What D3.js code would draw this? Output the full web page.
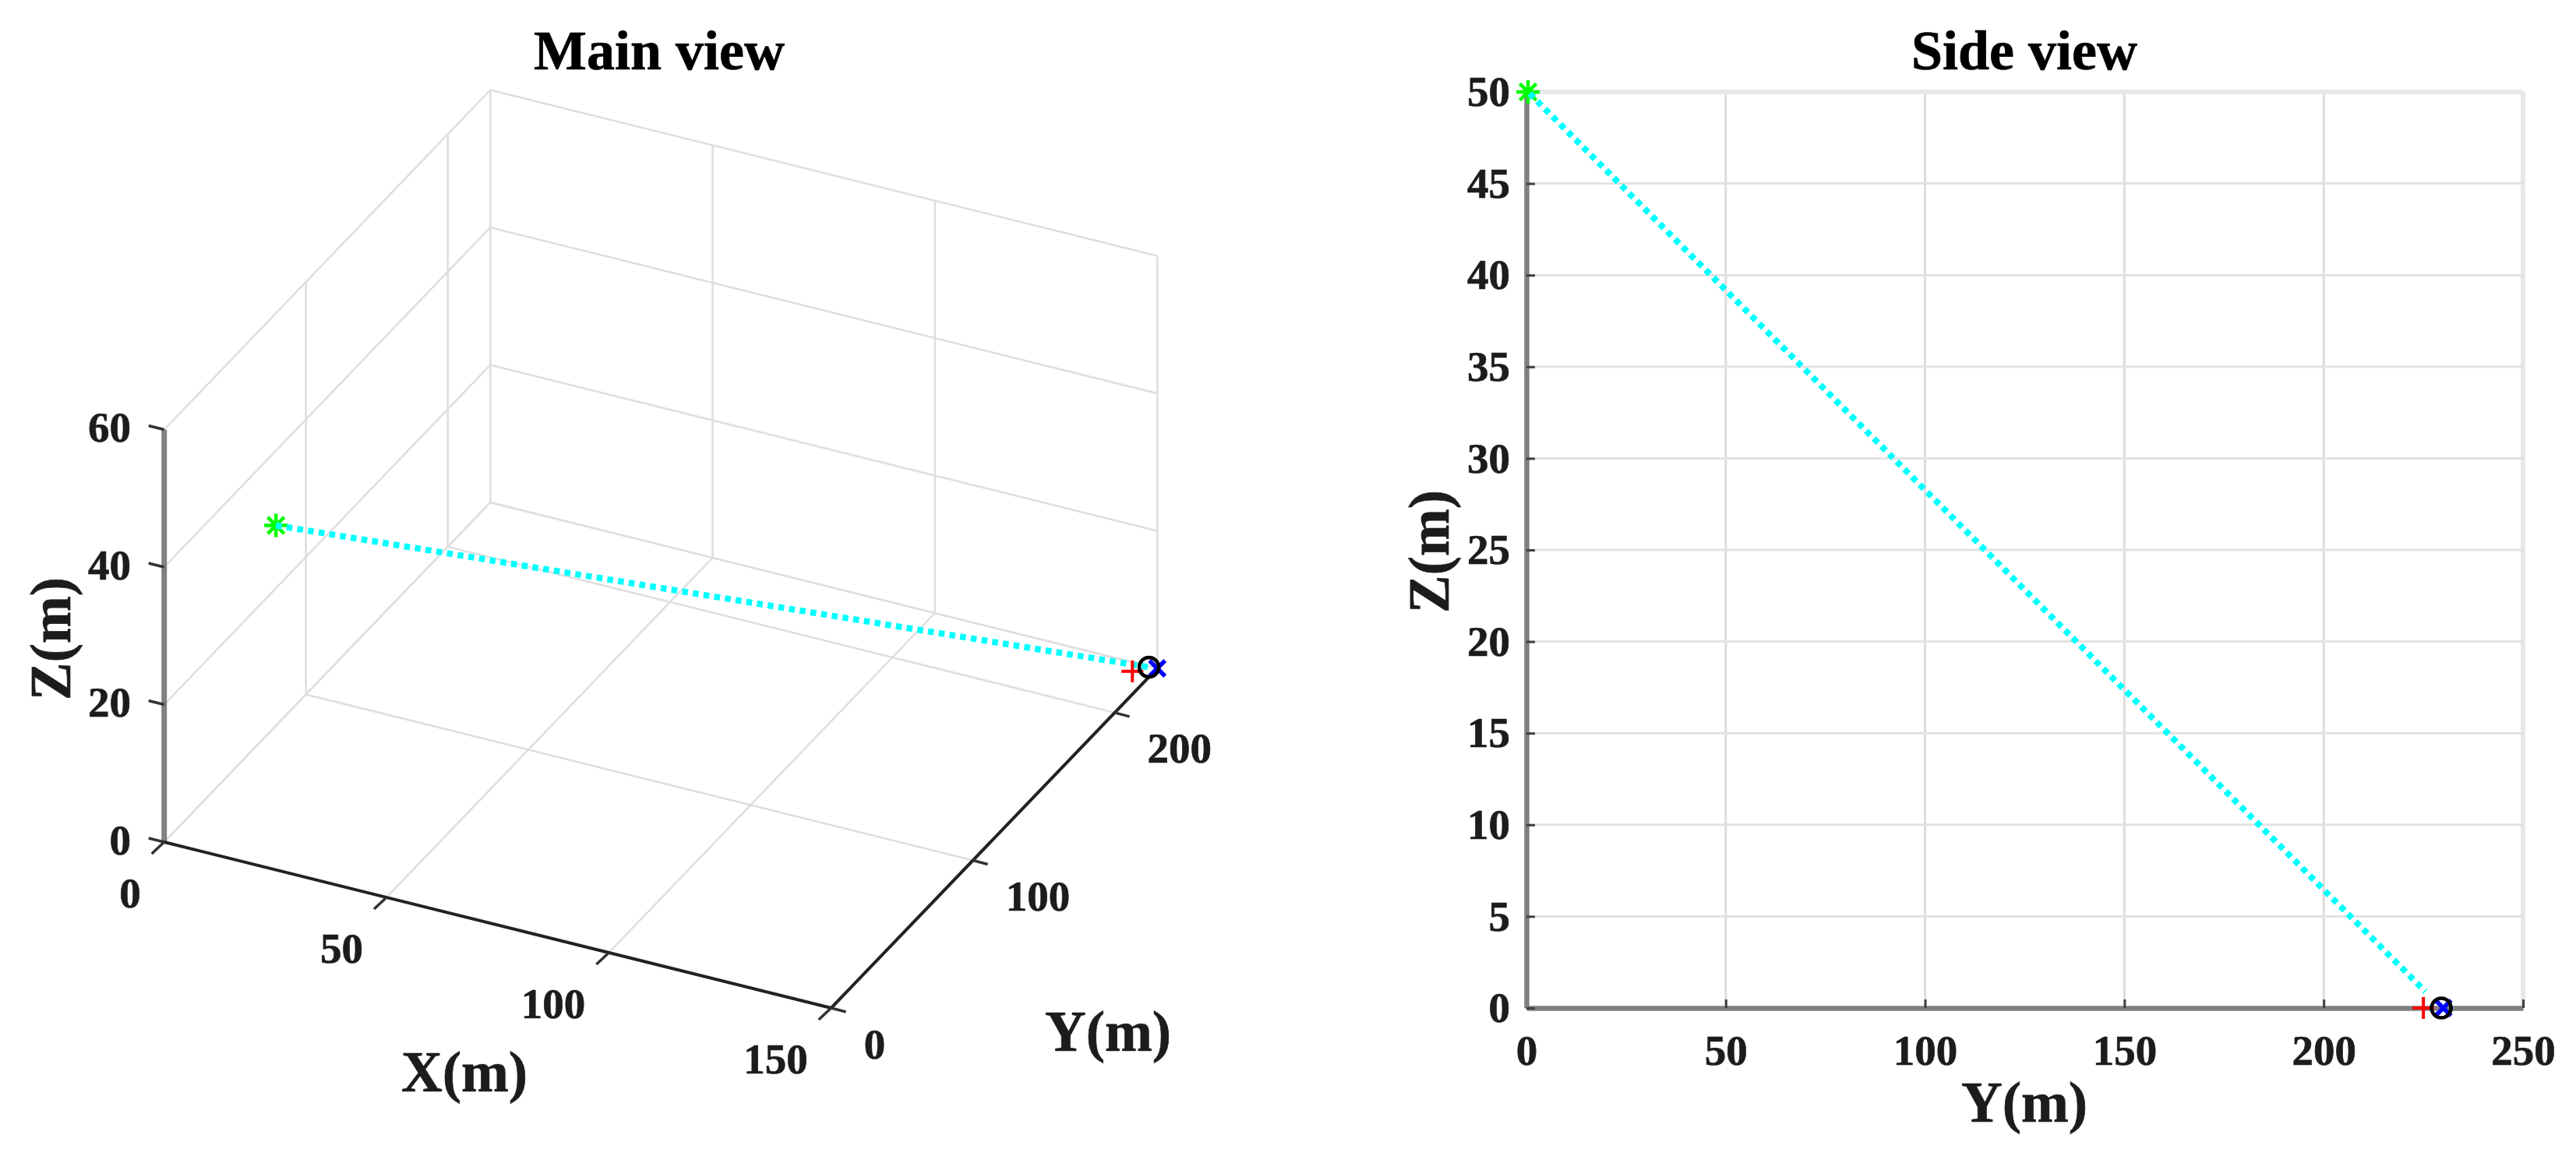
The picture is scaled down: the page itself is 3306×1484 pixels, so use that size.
<!DOCTYPE html>
<html>
<head>
<meta charset="utf-8">
<script src="https://cdn.jsdelivr.net/npm/d3@7"></script>
<style>
  html, body { margin: 0; background: #fff; }
  text { font-family: "Liberation Serif", serif; font-weight: bold; fill: #1c1c1c; stroke: #1c1c1c; stroke-width: 0.7px; }
</style>
</head>
<body>
<svg id="chart" width="3306" height="1484"></svg>
<script>
// Ticks
var mainXTicks = [0, 50, 100, 150];
var mainYTicks = [0, 100, 200];
var mainZTicks = [0, 20, 40, 60];
var sideYTicks = [0, 50, 100, 150, 200, 250];
var sideZTicks = [0, 5, 10, 15, 20, 25, 30, 35, 40, 45, 50];

// Axis limits
var mainXLimit = [0, 150];
var mainYLimit = [0, 230];
var mainZLimit = [0, 60];
var sideYLimit = [0, 250];
var sideZLimit = [0, 50];

// Track and markers, [x, y, z] in metres
var trackStart = [25, 0.4, 50];
var trackEnd = [148.3, 229.5, 0];
var redTarget = [146, 225, 0];
var blueTarget = [150, 230, 0];

var svg = d3.select("#chart");

// the reference is a soft upscaled image, so everything gets a slight blur
svg.append("filter").attr("id", "soft")
  .attr("x", 0).attr("y", 0).attr("width", 1).attr("height", 1)
  .attr("filterUnits", "objectBoundingBox")
  .append("feGaussianBlur").attr("stdDeviation", 0.7);
var root = svg.append("g").attr("filter", "url(#soft)");
root.append("rect").attr("width", 3306).attr("height", 1484).attr("fill", "#fff");

function addText(txt, x, y, size, anchor, rotate, fill) {
  var t = root.append("text")
    .attr("x", x)
    .attr("y", y)
    .attr("font-size", size)
    .attr("text-anchor", anchor)
    .attr("dominant-baseline", "central")
    .text(txt);
  if (rotate) t.attr("transform", `rotate(${rotate} ${x} ${y})`);
  if (fill) t.style("fill", fill).style("stroke", fill);
  return t;
}

function drawLine(a, b, color, width) {
  return root.append("line")
    .attr("x1", a[0]).attr("y1", a[1])
    .attr("x2", b[0]).attr("y2", b[1])
    .attr("stroke", color)
    .attr("stroke-width", width);
}

// MATLAB style markers
function drawStar(p) {
  var r = 15;
  [0, 45, 90, 135].forEach((a) => {
    var dx = r * Math.cos(a * Math.PI / 180), dy = r * Math.sin(a * Math.PI / 180);
    drawLine([p[0] - dx, p[1] - dy], [p[0] + dx, p[1] + dy], "#00ff00", 4.5);
  });
}
function drawPlus(p) {
  drawLine([p[0] - 14, p[1]], [p[0] + 14, p[1]], "#ff0000", 4);
  drawLine([p[0], p[1] - 14], [p[0], p[1] + 14], "#ff0000", 4);
}
function drawCross(p) {
  drawLine([p[0] - 10, p[1] - 10], [p[0] + 10, p[1] + 10], "#0000ff", 5.5);
  drawLine([p[0] - 10, p[1] + 10], [p[0] + 10, p[1] - 10], "#0000ff", 5.5);
}
function drawCircle(p) {
  root.append("circle")
    .attr("cx", p[0]).attr("cy", p[1]).attr("r", 12.5)
    .attr("fill", "none").attr("stroke", "#000").attr("stroke-width", 4.5);
}
function drawTrack(a, b) {
  return drawLine(a, b, "#00ffff", 8).attr("stroke-dasharray", "7.5 6.4");
}

//-----------------------------------------------------------------------
// Main view (3D box, flat projection)
var origin = [210.7, 1081];
var xUnit = [856, 213];
var yUnit = [418.5, -436];
var zUnit = [0, -529.5];

var xFrac = d3.scaleLinear().domain(mainXLimit).range([0, 1]);
var yFrac = d3.scaleLinear().domain(mainYLimit).range([0, 1]);
var zFrac = d3.scaleLinear().domain(mainZLimit).range([0, 1]);

function project(x, y, z) {
  var a = xFrac(x), b = yFrac(y), c = zFrac(z);
  return [
    origin[0] + a * xUnit[0] + b * yUnit[0] + c * zUnit[0],
    origin[1] + a * xUnit[1] + b * yUnit[1] + c * zUnit[1]
  ];
}

var xMax = mainXLimit[1], yMax = mainYLimit[1], zMax = mainZLimit[1];
var gridColor = "#dedede";

mainXTicks.forEach((x) => {
  drawLine(project(x, 0, 0), project(x, yMax, 0), gridColor, 2.5);
  drawLine(project(x, yMax, 0), project(x, yMax, zMax), gridColor, 2.5);
});
mainYTicks.concat([yMax]).forEach((y) => {
  drawLine(project(0, y, 0), project(xMax, y, 0), gridColor, 2.5);
  drawLine(project(0, y, 0), project(0, y, zMax), gridColor, 2.5);
});
mainZTicks.forEach((z) => {
  drawLine(project(0, 0, z), project(0, yMax, z), gridColor, 2.5);
  drawLine(project(0, yMax, z), project(xMax, yMax, z), gridColor, 2.5);
});

// Axis lines
drawLine(project(0, 0, 0), project(0, 0, zMax), "#808080", 7);
drawLine(project(0, 0, 0), project(xMax, 0, 0), "#222222", 4);
drawLine(project(xMax, 0, 0), project(xMax, yMax, 0), "#222222", 4);

// Tick marks and labels
mainXTicks.forEach((x) => {
  var p = project(x, 0, 0);
  drawLine(p, [p[0] - 16, p[1] + 15], "#333333", 3.5);
  addText(x, p[0] - 30, p[1] + 65, 55, "end");
});
mainYTicks.forEach((y) => {
  var p = project(xMax, y, 0);
  drawLine(p, [p[0] + 19, p[1] + 5], "#333333", 3.5);
  addText(y, p[0] + 42, p[1] + 46, 55, "start");
});
mainZTicks.forEach((z) => {
  var p = project(0, 0, z);
  drawLine(p, [p[0] - 20, p[1] - 5], "#333333", 3.5);
  addText(z, 168, p[1] - 3, 55, "end");
});

// Markers and track
drawStar(project(trackStart[0], trackStart[1], trackStart[2]));
drawTrack(project(trackStart[0], trackStart[1], trackStart[2]), project(trackEnd[0], trackEnd[1], trackEnd[2]));
drawPlus(project(redTarget[0], redTarget[1], redTarget[2]));
drawCross(project(blueTarget[0], blueTarget[1], blueTarget[2]));
drawCircle(project(trackEnd[0], trackEnd[1], trackEnd[2]));

addText("Main view", 846, 64.5, 72, "middle", 0, "#000");
addText("X(m)", 596, 1376, 73, "middle");
addText("Y(m)", 1422, 1324, 73, "middle");
addText("Z(m)", 65, 820, 73, "middle", -90);

//-----------------------------------------------------------------------
// Side view
var sideX = d3.scaleLinear().domain(sideYLimit).range([1959, 3238]);
var sideY = d3.scaleLinear().domain(sideZLimit).range([1294, 118]);

// Grid
sideYTicks.forEach((v) => {
  drawLine([sideX(v), sideY.range()[1]], [sideX(v), sideY.range()[0]], v === 250 ? "#e8e8e8" : "#dcdcdc", v === 250 ? 6 : 3);
});
sideZTicks.forEach((v) => {
  drawLine([sideX.range()[0], sideY(v)], [sideX.range()[1], sideY(v)], v === 50 ? "#e8e8e8" : "#e2e2e2", v === 50 ? 6 : 3);
});

var bottomAxis = d3.axisBottom(sideX).tickValues(sideYTicks).tickSize(-11).tickSizeOuter(0).tickPadding(34);
var leftAxis = d3.axisLeft(sideY).tickValues(sideZTicks).tickSize(-11).tickSizeOuter(0).tickPadding(21);

[
  root.append("g").attr("transform", `translate(0,${sideY(0)})`).call(bottomAxis),
  root.append("g").attr("transform", `translate(${sideX(0)},0)`).call(leftAxis)
].forEach((g) => {
  g.attr("font-family", null).attr("font-size", 55);
  g.select(".domain").attr("stroke", "#808080").attr("stroke-width", 6.5);
  g.selectAll(".tick line").attr("stroke", "#404040").attr("stroke-width", 3);
});

var startPt = [sideX(trackStart[1]), sideY(trackStart[2])];
var endPt = [sideX(trackEnd[1]), sideY(trackEnd[2])];
drawStar(startPt);
// side view track stops just short of the circle
drawTrack(startPt, [sideX(trackEnd[1] - 4), sideY(trackEnd[2] + 0.9)]).attr("stroke-dashoffset", -3);
drawPlus([sideX(redTarget[1]), sideY(redTarget[2])]);
drawCross([sideX(blueTarget[1]), sideY(blueTarget[2])]);
drawCircle(endPt);

addText("Side view", 2598, 64.5, 72, "middle", 0, "#000");
addText("Y(m)", 2598, 1415, 73, "middle");
addText("Z(m)", 1834, 708, 73, "middle", -90);
</script>
</body>
</html>
